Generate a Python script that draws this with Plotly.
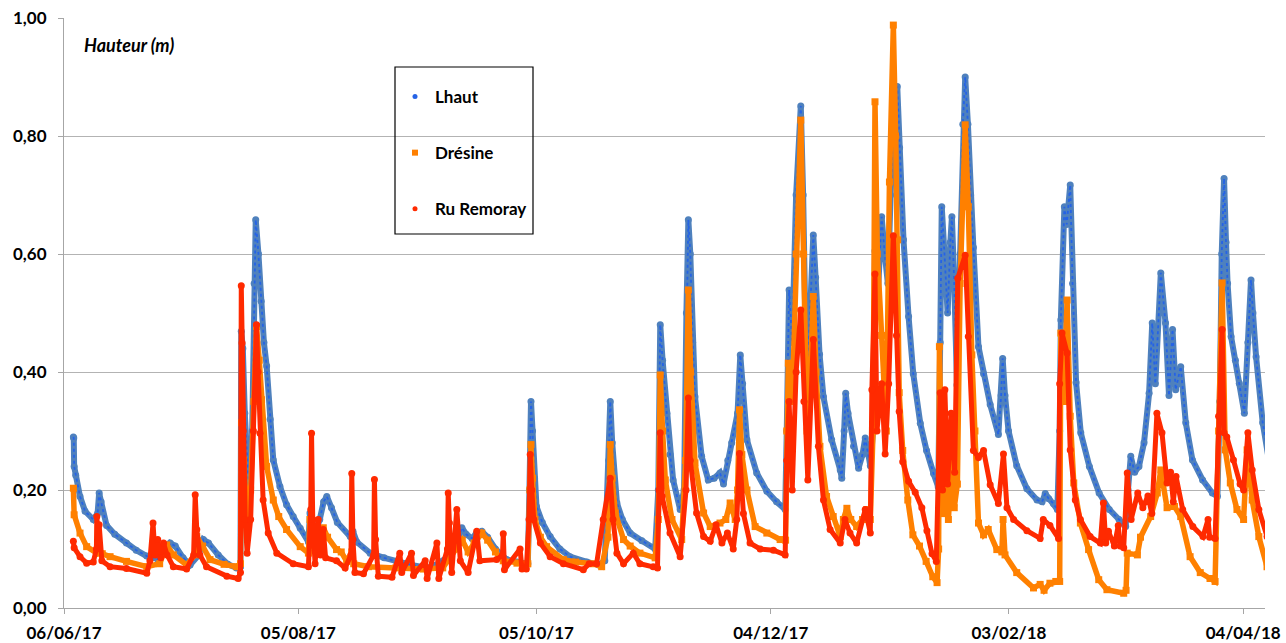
import pandas as pd
import plotly.graph_objects as go

START = "2017-06-06"

# Lhaut : days since 06/06/17 and water height (m)
lhaut_t = [2.4, 2.5, 2.6, 3.0, 4.1, 5.4, 7.5, 8.6, 9.0, 9.5, 10.9, 13.0, 16.0, 18.5, 21.2, 24.0, 26.0, 27.2,
           28.5, 30.5, 32.3, 34.5, 35.7, 37.0, 39.5, 42.0, 44.2, 45.2, 45.4, 45.8, 46.3, 46.9, 47.5, 48.2,
           48.7, 49.1, 49.8, 50.5, 51.2, 51.9, 52.8, 53.6, 55.3, 57.0, 58.7, 60.5, 62.6, 63.0, 63.6, 64.5,
           65.5, 66.5, 67.3, 68.5, 70.0, 73.3, 74.0, 75.0, 78.4, 82.0, 85.2, 89.0, 92.9, 95.0, 98.0, 100.5,
           101.9, 103.0, 104.5, 105.5, 107.0, 108.5, 110.5, 113.4, 116.0, 118.8, 119.2, 119.6, 120.0, 120.5,
           121.0, 122.5, 124.5, 127.0, 129.6, 133.9, 137.0, 138.5, 139.5, 139.9, 140.4, 141.0, 141.6, 143.0,
           145.0, 148.0, 151.4, 152.2, 152.7, 153.3, 154.4, 155.2, 156.0, 157.8, 158.8, 159.4, 159.9, 160.4,
           161.0, 161.6, 163.3, 165.0, 166.5, 168.0, 168.9, 170.0, 171.0, 172.5, 173.2, 173.8, 174.9, 177.4,
           180.0, 182.5, 184.7, 185.1, 185.7, 186.5, 187.5, 188.7, 189.3, 190.2, 191.0, 191.9, 192.5, 193.5,
           194.5, 196.6, 198.8, 199.2, 199.8, 200.2, 200.8, 202.2, 203.5, 204.5, 205.2, 206.0, 206.5, 207.2,
           207.7, 208.5, 209.4, 210.2, 211.0, 211.7, 212.4, 213.4, 214.0, 215.0, 216.3, 217.5, 219.3, 220.9,
           222.7, 223.9, 224.4, 224.8, 225.5, 226.3, 227.0, 227.4, 228.0, 228.7, 229.5, 230.2, 230.8, 231.5,
           232.2, 232.9, 234.2, 235.5, 237.2, 239.3, 240.0, 240.4, 241.0, 241.9, 244.0, 246.6, 249.2, 250.5,
           251.3, 252.2, 253.4, 254.4, 255.0, 255.3, 256.2, 256.8, 257.7, 258.3, 259.2, 260.4, 262.6, 265.1,
           267.7, 270.2, 271.9, 272.5, 273.2, 274.2, 275.3, 276.6, 277.9, 278.7, 279.5, 280.9, 282.1, 283.0,
           283.9, 284.7, 286.0, 287.3, 289.0, 291.6, 294.1, 295.4, 296.0, 296.5, 297.1, 297.6, 298.0, 298.9,
           300.0, 301.0, 302.3, 303.2, 304.0, 304.5, 305.3, 307.0, 308.7]
lhaut_v = [0.290, 0.288, 0.240, 0.225, 0.189, 0.164, 0.150, 0.160, 0.195, 0.180, 0.140, 0.125, 0.110, 0.098,
           0.088, 0.083, 0.095, 0.110, 0.105, 0.085, 0.073, 0.090, 0.116, 0.110, 0.090, 0.074, 0.068, 0.070,
           0.469, 0.440, 0.330, 0.240, 0.178, 0.300, 0.550, 0.658, 0.600, 0.520, 0.450, 0.410, 0.320, 0.251,
           0.206, 0.175, 0.155, 0.135, 0.112, 0.161, 0.140, 0.130, 0.150, 0.180, 0.189, 0.170, 0.145, 0.121,
           0.130, 0.112, 0.093, 0.085, 0.079, 0.073, 0.068, 0.072, 0.085, 0.110, 0.136, 0.125, 0.118, 0.125,
           0.130, 0.120, 0.100, 0.082, 0.078, 0.075, 0.200, 0.350, 0.300, 0.220, 0.172, 0.145, 0.121, 0.100,
           0.087, 0.078, 0.073, 0.080, 0.250, 0.350, 0.280, 0.210, 0.178, 0.150, 0.127, 0.114, 0.100, 0.200,
           0.480, 0.420, 0.330, 0.260, 0.217, 0.167, 0.200, 0.500, 0.658, 0.600, 0.450, 0.358, 0.257, 0.217,
           0.220, 0.229, 0.210, 0.250, 0.280, 0.330, 0.429, 0.380, 0.285, 0.229, 0.198, 0.180, 0.167, 0.300,
           0.539, 0.450, 0.700, 0.851, 0.700, 0.360, 0.500, 0.632, 0.560, 0.430, 0.358, 0.285, 0.234, 0.220,
           0.300, 0.364, 0.330, 0.274, 0.237, 0.260, 0.288, 0.260, 0.241, 0.300, 0.605, 0.540, 0.663, 0.600,
           0.550, 0.700, 0.812, 0.884, 0.780, 0.624, 0.494, 0.397, 0.313, 0.267, 0.228, 0.205, 0.450, 0.680,
           0.600, 0.500, 0.620, 0.663, 0.550, 0.378, 0.600, 0.820, 0.900, 0.820, 0.700, 0.611, 0.443, 0.397,
           0.345, 0.294, 0.360, 0.423, 0.360, 0.300, 0.241, 0.202, 0.183, 0.180, 0.194, 0.185, 0.177, 0.167,
           0.300, 0.488, 0.680, 0.650, 0.717, 0.550, 0.382, 0.297, 0.240, 0.195, 0.167, 0.150, 0.138, 0.200,
           0.257, 0.230, 0.240, 0.280, 0.364, 0.483, 0.380, 0.568, 0.483, 0.360, 0.472, 0.370, 0.409, 0.314,
           0.251, 0.217, 0.195, 0.189, 0.350, 0.600, 0.728, 0.620, 0.550, 0.460, 0.420, 0.381, 0.330, 0.450,
           0.556, 0.500, 0.426, 0.314, 0.246]

# Drésine
dresine_t = [2.4, 2.6, 4.1, 5.8, 8.4, 9.0, 9.8, 11.8, 16.0, 21.2, 24.5, 26.3, 28.0, 31.4, 33.5, 34.0, 35.5,
             37.4, 41.0, 44.2, 45.2, 45.5, 46.0, 46.8, 47.8, 48.6, 49.3, 50.0, 50.6, 51.9, 53.6, 55.0, 57.0,
             60.5, 62.6, 63.0, 63.8, 65.0, 66.4, 67.5, 69.8, 71.0, 72.4, 73.7, 74.2, 78.0, 85.0, 92.0, 97.0,
             100.5, 102.0, 103.5, 105.0, 107.0, 108.5, 110.5, 112.5, 116.0, 118.8, 119.3, 119.6, 120.0, 120.6,
             122.0, 123.6, 127.9, 131.0, 135.6, 137.7, 139.3, 139.9, 140.4, 141.2, 143.3, 145.0, 147.5, 151.4,
             152.2, 152.7, 153.3, 154.0, 155.7, 158.2, 159.2, 159.9, 160.5, 161.6, 163.8, 165.5, 168.0, 169.5,
             170.6, 171.9, 172.5, 173.0, 173.6, 174.9, 177.0, 180.0, 183.4, 184.8, 185.1, 185.5, 186.5, 187.5,
             188.7, 189.4, 190.3, 191.2, 191.9, 192.6, 193.6, 195.3, 197.0, 198.8, 199.6, 200.5, 201.5, 203.0,
             204.5, 205.6, 206.5, 207.2, 207.7, 208.3, 209.4, 210.6, 211.4, 212.4, 213.0, 213.5, 213.9, 214.8,
             216.1, 217.4, 219.1, 220.8, 222.5, 223.6, 224.0, 224.2, 224.6, 225.0, 225.8, 226.5, 227.3, 228.0,
             228.8, 229.5, 230.8, 231.6, 232.5, 233.3, 234.2, 235.5, 236.7, 238.9, 240.2, 240.5, 241.0, 244.0,
             248.3, 250.0, 251.0, 252.5, 254.0, 255.0, 255.3, 256.0, 256.9, 257.7, 258.6, 260.3, 262.4, 265.0,
             267.1, 271.4, 272.0, 272.3, 274.9, 275.7, 278.3, 280.0, 280.9, 282.5, 284.4, 286.0, 288.4, 291.0,
             293.5, 294.8, 295.7, 296.6, 297.4, 298.7, 300.4, 302.1, 303.0, 304.3, 306.0, 308.1]
dresine_v = [0.203, 0.158, 0.127, 0.104, 0.093, 0.100, 0.092, 0.087, 0.079, 0.070, 0.075, 0.107, 0.090, 0.073,
             0.090, 0.121, 0.105, 0.082, 0.074, 0.070, 0.075, 0.314, 0.250, 0.160, 0.200, 0.350, 0.477, 0.420,
             0.353, 0.240, 0.183, 0.155, 0.133, 0.104, 0.093, 0.150, 0.105, 0.115, 0.136, 0.120, 0.099, 0.095,
             0.079, 0.095, 0.075, 0.070, 0.068, 0.066, 0.068, 0.100, 0.115, 0.095, 0.110, 0.127, 0.115, 0.095,
             0.080, 0.076, 0.075, 0.200, 0.277, 0.220, 0.150, 0.120, 0.104, 0.082, 0.078, 0.075, 0.070, 0.120,
             0.277, 0.220, 0.161, 0.116, 0.105, 0.093, 0.085, 0.150, 0.395, 0.300, 0.217, 0.150, 0.116, 0.250,
             0.539, 0.400, 0.246, 0.161, 0.138, 0.144, 0.150, 0.178, 0.150, 0.200, 0.336, 0.260, 0.200, 0.138,
             0.127, 0.116, 0.115, 0.300, 0.415, 0.350, 0.600, 0.827, 0.600, 0.300, 0.400, 0.528, 0.400, 0.274,
             0.189, 0.155, 0.121, 0.150, 0.169, 0.150, 0.138, 0.150, 0.167, 0.150, 0.300, 0.858, 0.600, 0.462,
             0.300, 0.722, 0.988, 0.800, 0.624, 0.365, 0.267, 0.183, 0.124, 0.105, 0.079, 0.053, 0.043, 0.100,
             0.443, 0.200, 0.160, 0.220, 0.150, 0.250, 0.170, 0.210, 0.550, 0.819, 0.680, 0.429, 0.300, 0.144,
             0.124, 0.133, 0.099, 0.095, 0.150, 0.090, 0.060, 0.034, 0.040, 0.030, 0.042, 0.045, 0.045, 0.466,
             0.350, 0.522, 0.325, 0.212, 0.144, 0.099, 0.048, 0.031, 0.025, 0.030, 0.093, 0.090, 0.120, 0.155,
             0.195, 0.234, 0.170, 0.172, 0.155, 0.087, 0.060, 0.050, 0.045, 0.300, 0.551, 0.268, 0.212, 0.167,
             0.150, 0.268, 0.183, 0.121, 0.070]

# Ru Remoray
remoray_t = [2.4, 2.6, 4.1, 5.8, 7.5, 8.3, 8.4, 8.8, 9.0, 9.7, 11.8, 16.0, 21.2, 22.0, 22.8, 23.3, 24.0, 24.8,
             25.5, 26.4, 28.0, 31.4, 33.2, 33.6, 34.0, 34.8, 36.5, 41.7, 44.6, 45.2, 45.4, 45.6, 45.9, 46.4,
             46.9, 47.8, 48.5, 49.3, 49.7, 50.2, 51.0, 52.3, 54.5, 58.7, 62.6, 63.2, 63.4, 63.7, 64.3, 65.1,
             65.7, 66.4, 67.0, 69.8, 72.0, 73.5, 73.7, 74.0, 74.5, 76.7, 79.3, 79.5, 79.8, 80.5, 84.0, 86.0,
             86.5, 89.0, 89.5, 92.5, 93.0, 95.5, 96.0, 98.2, 98.4, 98.7, 99.3, 100.6, 101.5, 103.5, 105.7,
             106.5, 110.8, 112.3, 112.5, 112.8, 116.8, 117.3, 118.4, 119.1, 119.4, 119.8, 120.3, 122.0, 124.5,
             127.9, 133.0, 134.5, 136.4, 138.1, 139.9, 140.6, 141.6, 143.3, 145.8, 147.5, 150.9, 152.0, 152.4,
             152.7, 153.2, 155.2, 157.8, 159.3, 159.9, 160.4, 162.0, 163.8, 165.5, 167.0, 168.5, 169.9, 171.4,
             172.3, 173.0, 174.0, 175.7, 178.3, 181.7, 184.7, 185.1, 185.7, 186.5, 187.5, 188.7, 189.5, 190.5,
             191.9, 193.2, 194.5, 196.2, 198.8, 200.0, 201.3, 203.0, 205.2, 206.5, 206.9, 207.7, 208.2, 209.4,
             210.3, 211.2, 212.4, 213.2, 213.9, 214.8, 216.3, 218.0, 219.7, 221.0, 222.3, 223.4, 224.4, 225.0,
             225.6, 226.3, 227.2, 228.1, 228.9, 230.8, 231.6, 232.9, 234.2, 235.5, 237.2, 239.3, 240.6, 241.5,
             243.2, 246.6, 250.0, 250.8, 252.5, 254.7, 255.0, 255.6, 256.9, 257.7, 259.0, 260.3, 262.8, 265.4,
             266.2, 266.8, 267.5, 269.0, 270.0, 270.5, 271.4, 272.3, 273.3, 275.0, 276.3, 277.6, 278.6, 279.9,
             281.2, 282.5, 283.4, 284.1, 284.8, 286.5, 289.1, 291.7, 293.0, 293.4, 294.8, 295.7, 296.6, 297.1,
             297.8, 299.5, 301.2, 302.1, 303.2, 304.3, 306.0, 308.1]
remoray_v = [0.113, 0.102, 0.087, 0.076, 0.078, 0.100, 0.155, 0.120, 0.141, 0.080, 0.070, 0.067, 0.059, 0.080,
             0.144, 0.090, 0.116, 0.085, 0.110, 0.090, 0.070, 0.066, 0.090, 0.192, 0.133, 0.090, 0.070, 0.054,
             0.050, 0.060, 0.546, 0.449, 0.300, 0.150, 0.093, 0.150, 0.300, 0.480, 0.400, 0.296, 0.183, 0.127,
             0.093, 0.075, 0.070, 0.167, 0.296, 0.150, 0.075, 0.150, 0.090, 0.133, 0.085, 0.080, 0.068, 0.090,
             0.228, 0.116, 0.060, 0.058, 0.090, 0.218, 0.116, 0.054, 0.052, 0.093, 0.060, 0.093, 0.055, 0.080,
             0.050, 0.110, 0.050, 0.100, 0.195, 0.144, 0.060, 0.167, 0.080, 0.060, 0.130, 0.080, 0.082, 0.090,
             0.126, 0.065, 0.100, 0.066, 0.066, 0.150, 0.260, 0.200, 0.150, 0.110, 0.087, 0.075, 0.065, 0.075,
             0.075, 0.150, 0.220, 0.150, 0.093, 0.075, 0.093, 0.075, 0.070, 0.068, 0.200, 0.297, 0.189, 0.127,
             0.087, 0.200, 0.356, 0.250, 0.161, 0.121, 0.113, 0.141, 0.110, 0.127, 0.100, 0.150, 0.262, 0.160,
             0.110, 0.100, 0.098, 0.090, 0.250, 0.350, 0.200, 0.400, 0.505, 0.350, 0.217, 0.455, 0.274, 0.183,
             0.133, 0.110, 0.150, 0.127, 0.110, 0.167, 0.127, 0.370, 0.566, 0.300, 0.380, 0.261, 0.380, 0.631,
             0.462, 0.333, 0.248, 0.215, 0.196, 0.170, 0.131, 0.092, 0.079, 0.365, 0.200, 0.370, 0.210, 0.330,
             0.230, 0.559, 0.598, 0.460, 0.267, 0.255, 0.267, 0.209, 0.177, 0.261, 0.170, 0.150, 0.131, 0.118,
             0.150, 0.140, 0.118, 0.380, 0.466, 0.432, 0.268, 0.183, 0.150, 0.121, 0.110, 0.178, 0.110, 0.130,
             0.105, 0.140, 0.105, 0.102, 0.229, 0.150, 0.195, 0.170, 0.190, 0.160, 0.330, 0.297, 0.212, 0.230,
             0.180, 0.223, 0.167, 0.138, 0.121, 0.150, 0.120, 0.118, 0.325, 0.472, 0.297, 0.290, 0.251, 0.210,
             0.200, 0.297, 0.234, 0.167, 0.121]

tick_dates = ["2017-06-06", "2017-08-05", "2017-10-05", "2017-12-04", "2018-02-03", "2018-04-04"]
tick_labels = ["06/06/17", "05/08/17", "05/10/17", "04/12/17", "03/02/18", "04/04/18"]
y_ticks = [0.0, 0.2, 0.4, 0.6, 0.8, 1.0]


def to_dates(days):
    return pd.Timestamp(START) + pd.to_timedelta(days, unit="D")


FONT = "Lato"
fig = go.Figure()

lx = to_dates(lhaut_t)
fig.add_trace(go.Scatter(x=lx, y=lhaut_v, mode="lines+markers", showlegend=False, hoverinfo="skip",
                         line=dict(color="#4f81bd", width=6), marker=dict(color="#4f81bd", size=7)))
fig.add_trace(go.Scatter(x=lx, y=lhaut_v, mode="lines", name="Lhaut", showlegend=False,
                         line=dict(color="#2563e6", width=1.8, dash="dot")))
fig.add_trace(go.Scatter(x=to_dates(dresine_t), y=dresine_v, mode="lines+markers", name="Drésine",
                         showlegend=False, line=dict(color="#ff8000", width=5.5),
                         marker=dict(color="#ff8000", size=7, symbol="square")))
fig.add_trace(go.Scatter(x=to_dates(remoray_t), y=remoray_v, mode="lines+markers", name="Ru Remoray",
                         showlegend=False, line=dict(color="#ff2a00", width=5),
                         marker=dict(color="#ff2a00", size=7)))

# legend entries (markers only, as in the original)
for nm, col, sym, sz in [("Lhaut", "#2563e6", "circle", 5), ("Drésine", "#ff8000", "square", 6),
                         ("Ru Remoray", "#ff2a00", "circle", 5)]:
    fig.add_trace(go.Scatter(x=[None], y=[None], mode="markers", name=nm, legendgroup=nm,
                             marker=dict(color=col, size=sz, symbol=sym)))

W, H = 1286, 643
L, R, T, B = 64, 21, 18, 35


def px(xp):
    return (xp - L) / (W - L - R)


def py(yp):
    return (H - B - yp) / (H - T - B)


fig.update_layout(
    width=W, height=H,
    margin=dict(l=L, r=R, t=T, b=B, autoexpand=False),
    plot_bgcolor="white", paper_bgcolor="white",
    separators=", ",
    font=dict(family=FONT, color="black"),
    xaxis=dict(range=["2017-06-06", "2018-04-09 14:00"], tickvals=tick_dates, ticktext=tick_labels,
               showgrid=False, showline=True, linecolor="#a6a6a6", linewidth=1.2, ticks="outside",
               ticklen=5, tickcolor="#a6a6a6", zeroline=False, ticklabelstandoff=4, automargin=False,
               tickfont=dict(family=FONT, size=17, weight="bold", color="black")),
    yaxis=dict(range=[0, 1], tickvals=y_ticks, tickformat=".2f", showgrid=True, gridcolor="#b3b3b3",
               gridwidth=1.2, showline=True, linecolor="#a6a6a6", linewidth=1.2, ticks="outside",
               ticklen=5, tickcolor="#a6a6a6", zeroline=False, ticklabelstandoff=8, automargin=False,
               tickfont=dict(family=FONT, size=17, weight="bold", color="black")),
    legend=dict(x=px(395), y=py(79), xanchor="left", yanchor="top", bgcolor="rgba(0,0,0,0)",
                borderwidth=0, tracegroupgap=31, font=dict(family=FONT, size=17, weight="bold"),
                itemwidth=30),
    shapes=[dict(type="rect", xref="paper", yref="paper", x0=px(395), x1=px(533), y0=py(234), y1=py(67),
                 line=dict(color="black", width=1.2), fillcolor="rgba(255,255,255,0)")],
    annotations=[dict(text="Hauteur (m)", xref="paper", yref="paper", x=px(82), y=py(45),
                      xanchor="left", yanchor="middle", showarrow=False,
                      font=dict(family=FONT, size=18, weight="bold", style="italic", color="black"))],
)

fig.write_html("out.html")
